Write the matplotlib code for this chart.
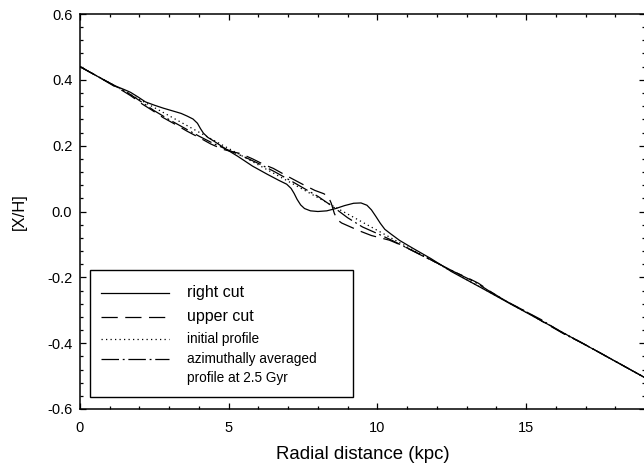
import matplotlib
matplotlib.use("Agg")
import matplotlib.pyplot as plt
from matplotlib.lines import Line2D
from matplotlib.patches import Rectangle
from matplotlib.ticker import MultipleLocator, FormatStrFormatter

plt.rcParams['font.family'] = ['Liberation Sans', 'DejaVu Sans']
plt.rcParams['axes.unicode_minus'] = False

# ---- radial metallicity profiles ----
# initial (linear) gradient
r_init = [0.0, 19.0]
feh_init = [0.440, -0.505]

# right cut
r_right = [0.0, 0.6, 1.2, 1.5, 1.7, 1.95, 2.2, 2.5, 2.8, 3.1, 3.4, 3.6, 3.8, 3.95,
           4.05, 4.15, 4.3, 4.5, 4.9, 5.3, 5.8, 6.3, 6.7, 6.95, 7.1, 7.2, 7.3,
           7.42, 7.55, 7.75, 8.0, 8.3, 8.6, 8.9, 9.2, 9.45, 9.65, 9.8, 9.95, 10.1,
           10.25, 10.45, 10.75, 11.2, 11.8, 12.5, 13.5, 14.5, 15.5, 16.5, 17.5,
           18.5, 19.0]
feh_right = [0.440, 0.410, 0.381, 0.370, 0.362, 0.348, 0.333, 0.323, 0.314, 0.306,
             0.298, 0.290, 0.281, 0.268, 0.252, 0.238, 0.225, 0.214, 0.190, 0.168,
             0.138, 0.113, 0.094, 0.083, 0.070, 0.055, 0.037, 0.020, 0.009, 0.002,
             0.000, 0.002, 0.009, 0.018, 0.025, 0.026, 0.019, 0.005, -0.015, -0.036,
             -0.054, -0.068, -0.088, -0.112, -0.143, -0.183, -0.232, -0.282, -0.331,
             -0.381, -0.430, -0.480, -0.505]

# upper cut
r_upper = [0.0, 0.6, 1.2, 1.45, 1.7, 1.95, 2.1, 2.4, 2.8, 3.2, 3.6, 4.0, 4.4, 4.8,
           5.1, 5.4, 5.8, 6.2, 6.5, 7.0, 7.5, 7.9, 8.2, 8.35, 8.45, 8.55, 8.65, 8.8,
           9.0, 9.4, 9.8, 10.1, 10.4, 10.8, 11.3, 12.0, 12.6, 13.0, 13.4, 13.8,
           14.3, 15.0, 15.6, 16.2, 16.8, 17.5, 18.3, 19.0]
feh_upper = [0.440, 0.410, 0.378, 0.366, 0.352, 0.336, 0.326, 0.309, 0.285, 0.265,
             0.244, 0.225, 0.205, 0.189, 0.182, 0.176, 0.160, 0.142, 0.131, 0.106,
             0.082, 0.064, 0.054, 0.045, 0.025, -0.005, -0.025, -0.035, -0.043,
             -0.059, -0.073, -0.080, -0.087, -0.102, -0.124, -0.156, -0.184,
             -0.200, -0.218, -0.243, -0.271, -0.304, -0.337, -0.368, -0.395,
             -0.430, -0.470, -0.505]

# azimuthally averaged profile at 2.5 Gyr
r_avg = [0.0, 0.6, 1.2, 1.5, 2.0, 2.5, 3.0, 3.5, 4.0, 4.5, 5.0, 5.5, 6.0, 6.5, 7.0,
         7.5, 8.0, 8.5, 9.0, 9.5, 10.0, 10.5, 11.0, 11.5, 12.0, 12.8, 13.3, 13.8,
         14.5, 15.5, 16.3, 17.0, 18.0, 19.0]
feh_avg = [0.440, 0.410, 0.380, 0.367, 0.337, 0.306, 0.279, 0.254, 0.229, 0.206,
           0.186, 0.167, 0.146, 0.123, 0.098, 0.072, 0.046, 0.015, -0.019, -0.047,
           -0.067, -0.088, -0.111, -0.134, -0.156, -0.193, -0.215, -0.244, -0.281,
           -0.328, -0.373, -0.405, -0.455, -0.505]

labels = ["right cut", "upper cut", "initial profile",
          "azimuthally averaged", "profile at 2.5 Gyr"]

x_ticks = [0, 5, 10, 15]
y_ticks = [-0.6, -0.4, -0.2, 0.0, 0.2, 0.4, 0.6]

# ---- figure ----
W, H = 644, 472
fig = plt.figure(figsize=(W / 100, H / 100), dpi=100)
ax = fig.add_axes([80 / W, 1 - 409 / H, 565 / W, 395 / H])

lw = 0.9
styles = {
    'solid': '-',
    'dashed': (0, (13, 6)),
    'dotted': (0, (1, 2.6)),
    'dashdot': (0, (14, 3, 1.5, 3)),
}

ax.plot(r_init, feh_init, color='black', lw=lw, ls=styles['dotted'])
ax.plot(r_avg, feh_avg, color='black', lw=lw, ls=styles['dashdot'])
ax.plot(r_upper, feh_upper, color='black', lw=lw, ls=styles['dashed'])
ax.plot(r_right, feh_right, color='black', lw=lw, ls=styles['solid'])

ax.set_xlim(0, 19)
ax.set_ylim(-0.6, 0.6)
ax.set_xticks(x_ticks)
ax.set_yticks(y_ticks)
ax.xaxis.set_minor_locator(MultipleLocator(1))
ax.yaxis.set_minor_locator(MultipleLocator(0.04))
ax.xaxis.set_major_formatter(FormatStrFormatter('%d'))
ax.yaxis.set_major_formatter(FormatStrFormatter('%.1f'))

ax.tick_params(which='both', direction='in', top=True, right=True,
               width=0.9, labelsize=10.5, colors='black')
ax.tick_params(which='major', length=4.5)
ax.tick_params(which='minor', length=2.4)
ax.tick_params(axis='x', pad=8.5)
ax.tick_params(axis='y', pad=5.5)
for s in ax.spines.values():
    s.set_linewidth(1.1)

ax.set_xlabel("Radial distance (kpc)", fontsize=13.4)
ax.xaxis.set_label_coords(0.5, -0.094)
ax.set_ylabel("[X/H]", fontsize=12)
ax.yaxis.set_label_coords(-0.094, 0.5)

# ---- key box ----
def fx(px):
    return (px - 80) / 565

def fy(py):
    return (409 - py) / 395

tr = ax.transAxes
ax.add_patch(Rectangle((fx(90), fy(397)), fx(353) - fx(90), fy(270) - fy(397),
                       transform=tr, facecolor='white', edgecolor='black',
                       lw=1.0, zorder=5))
key_rows = [
    (293, styles['solid'], labels[0], 11.5),
    (317, styles['dashed'], labels[1], 11.5),
    (339, styles['dotted'], labels[2], 9.8),
    (359, styles['dashdot'], labels[3], 9.8),
]
for py, ls, txt, fs in key_rows:
    ax.add_line(Line2D([fx(101), fx(169)], [fy(py), fy(py)], transform=tr,
                       color='black', lw=lw, ls=ls, zorder=6))
    ax.text(fx(187), fy(py), txt, transform=tr, fontsize=fs,
            va='center', ha='left', zorder=6)
ax.text(fx(187), fy(378), labels[4], transform=tr, fontsize=9.8,
        va='center', ha='left', zorder=6)

fig.savefig("out.png", dpi=100)
